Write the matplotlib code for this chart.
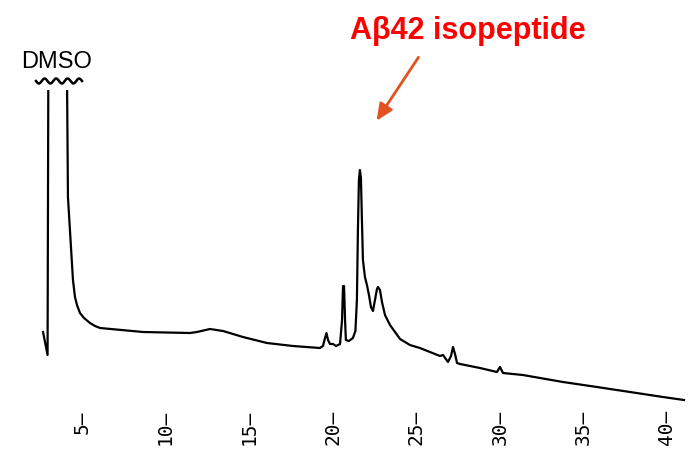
import numpy as np
import matplotlib
matplotlib.use("Agg")
import matplotlib.pyplot as plt

# HPLC trace (time in min, detector signal in arbitrary units)
# values of 420 are off-scale (the DMSO peak), clipped at the top of the plot
time_min = [2.67, 2.94, 3.00, 4.06, 4.16, 4.34, 4.46, 4.58, 4.70, 4.88, 5.12,
            5.48, 5.78, 6.08,
            8.65, 11.46, 11.88, 12.66, 13.44, 14.63, 16.07, 17.62, 19.24,
            19.42, 19.54, 19.63, 19.72, 19.84, 20.02, 20.20, 20.44, 20.56,
            20.62, 20.68, 20.74, 20.79, 20.97, 21.21, 21.36, 21.45, 21.51,
            21.57, 21.63, 21.69, 21.75, 21.81, 21.93, 22.05, 22.17, 22.29,
            22.41, 22.53, 22.65, 22.71, 22.83, 22.95, 23.13, 23.43, 23.73,
            24.03, 24.33, 24.62, 25.22, 25.82, 26.42, 26.60, 26.90, 27.08,
            27.20, 27.32, 27.44, 27.62, 28.81, 29.83, 30.01, 30.19, 31.38,
            33.78, 35.81, 37.79, 39.76, 41.02]
signal = [74, 51, 420, 420, 209, 159, 126, 109, 101, 93, 88,
          83, 80, 78,
          74, 73, 74, 77, 75, 69, 63, 60, 58,
          60, 68, 73, 66, 62, 62, 60, 62, 86,
          120, 120, 86, 66, 65, 68, 75, 106, 176,
          226, 236, 228, 186, 146, 129, 121, 111, 99,
          95, 106, 117, 119, 116, 104, 91, 81, 74,
          67, 64, 61, 58, 54, 50, 51, 44, 50,
          59, 52, 43, 42, 38, 34, 39, 33, 31,
          24, 19, 14, 9, 6]

tick_minutes = [5, 10, 15, 20, 25, 30, 35, 40]
tick_labels = [f"{m}\u2014" for m in tick_minutes]

W, H = 693, 469
fig = plt.figure(figsize=(W / 100, H / 100), dpi=100)
ax = fig.add_axes([0, (H - 406) / H, 1, 316 / H])

ax.plot(time_min, signal, color="black", lw=1.6, solid_joinstyle="round")
ax.set_xlim(0.094, 41.56)
ax.set_ylim(0, 316)

for s in ax.spines.values():
    s.set_visible(False)
ax.set_yticks([])
ax.set_xticks(tick_minutes)
ax.set_xticklabels(tick_labels, rotation=90, family="DejaVu Sans Mono",
                   fontsize=14, va="top", ha="center")
ax.tick_params(axis="x", length=0, pad=3)


def px(x, y):
    # figure pixel (from top-left) -> figure fraction
    return x / W, (H - y) / H


# DMSO label with break symbol
fig.text(*px(57, 68), "DMSO", ha="center", va="baseline",
         family="Liberation Sans", fontsize=17)
wx = np.linspace(36, 82, 200)
wy = 81 + 2.5 * np.sin((wx - 36) / 46 * 4 * 2 * np.pi)
fig.add_artist(plt.Line2D(wx / W, (H - wy) / H, color="black", lw=1.8))

# peak annotation
fig.text(*px(468, 39), "A\u03b242 isopeptide", ha="center", va="baseline",
         family="Liberation Sans", fontweight="bold", fontsize=22, color="#ff0000")
ax.annotate("", xy=px(375, 123), xytext=px(420, 55),
            xycoords="figure fraction", textcoords="figure fraction",
            arrowprops=dict(arrowstyle="-|>,head_length=1.0,head_width=0.45",
                            color="#e2521f", lw=2))

fig.savefig("out.png", dpi=100)
